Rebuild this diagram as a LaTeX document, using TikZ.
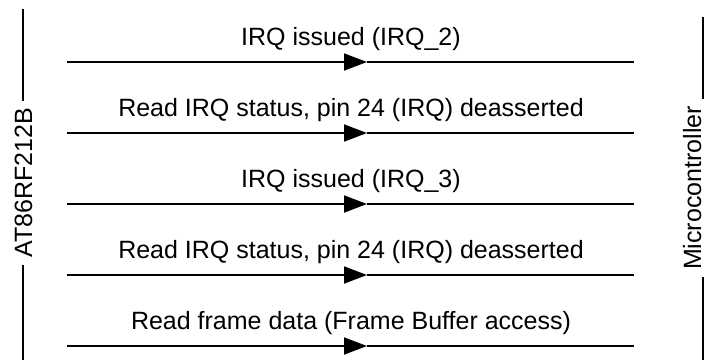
\documentclass[tikz,border=0pt]{standalone}
\usepackage{fontspec}
\setmainfont{Liberation Sans}
\usetikzlibrary{arrows.meta}
\tikzset{
  lifeline/.style={line width=1.8pt, black},
  msgline/.style={line width=1.8pt, black},
  msghead/.style={line width=1.8pt, black, -{Triangle[length=23pt,width=17pt]}},
  msglabel/.style={anchor=base, inner sep=0pt, font=\fontsize{25}{30}\selectfont},
  lifelabel/.style={anchor=base, rotate=90, inner xsep=7pt, inner ysep=0pt, font=\fontsize{25}{30}\selectfont}
}
\begin{document}
\begin{tikzpicture}[x=1pt,y=-1pt]
\useasboundingbox (0,0) rectangle (705,360);
% left lifeline
\coordinate (Ltop) at (23,9);
\coordinate (Lbot) at (23,360);
\node[lifelabel] (Llbl) at (32,183) {AT86RF212B};
\draw[lifeline] (Ltop) -- (Ltop |- Llbl.east);
\draw[lifeline] (Ltop |- Llbl.west) -- (Lbot);
% right lifeline
\coordinate (Rtop) at (703,17);
\coordinate (Rbot) at (703,360);
\node[lifelabel] (Rlbl) at (701,188) {Microcontroller};
\draw[lifeline] (Rtop) -- (Rtop |- Rlbl.east);
\draw[lifeline] (Rtop |- Rlbl.west) -- (Rbot);
% messages
\foreach \n/\y/\t in {1/62/{IRQ issued (IRQ\_2)},
                      2/133/{Read IRQ status, pin 24 (IRQ) deasserted},
                      3/204/{IRQ issued (IRQ\_3)},
                      4/275/{Read IRQ status, pin 24 (IRQ) deasserted},
                      5/346/{Read frame data (Frame Buffer access)}}{
  \coordinate (m\n s) at (67,\y);
  \coordinate (m\n t) at (367,\y);
  \coordinate (m\n e) at (634,\y);
  \draw[msghead] (m\n s) -- (m\n t);
  \draw[msgline] (m\n t) -- (m\n e);
  \node[msglabel] (l\n) at (351,\y-17) {\t};
}
\end{tikzpicture}
\end{document}
